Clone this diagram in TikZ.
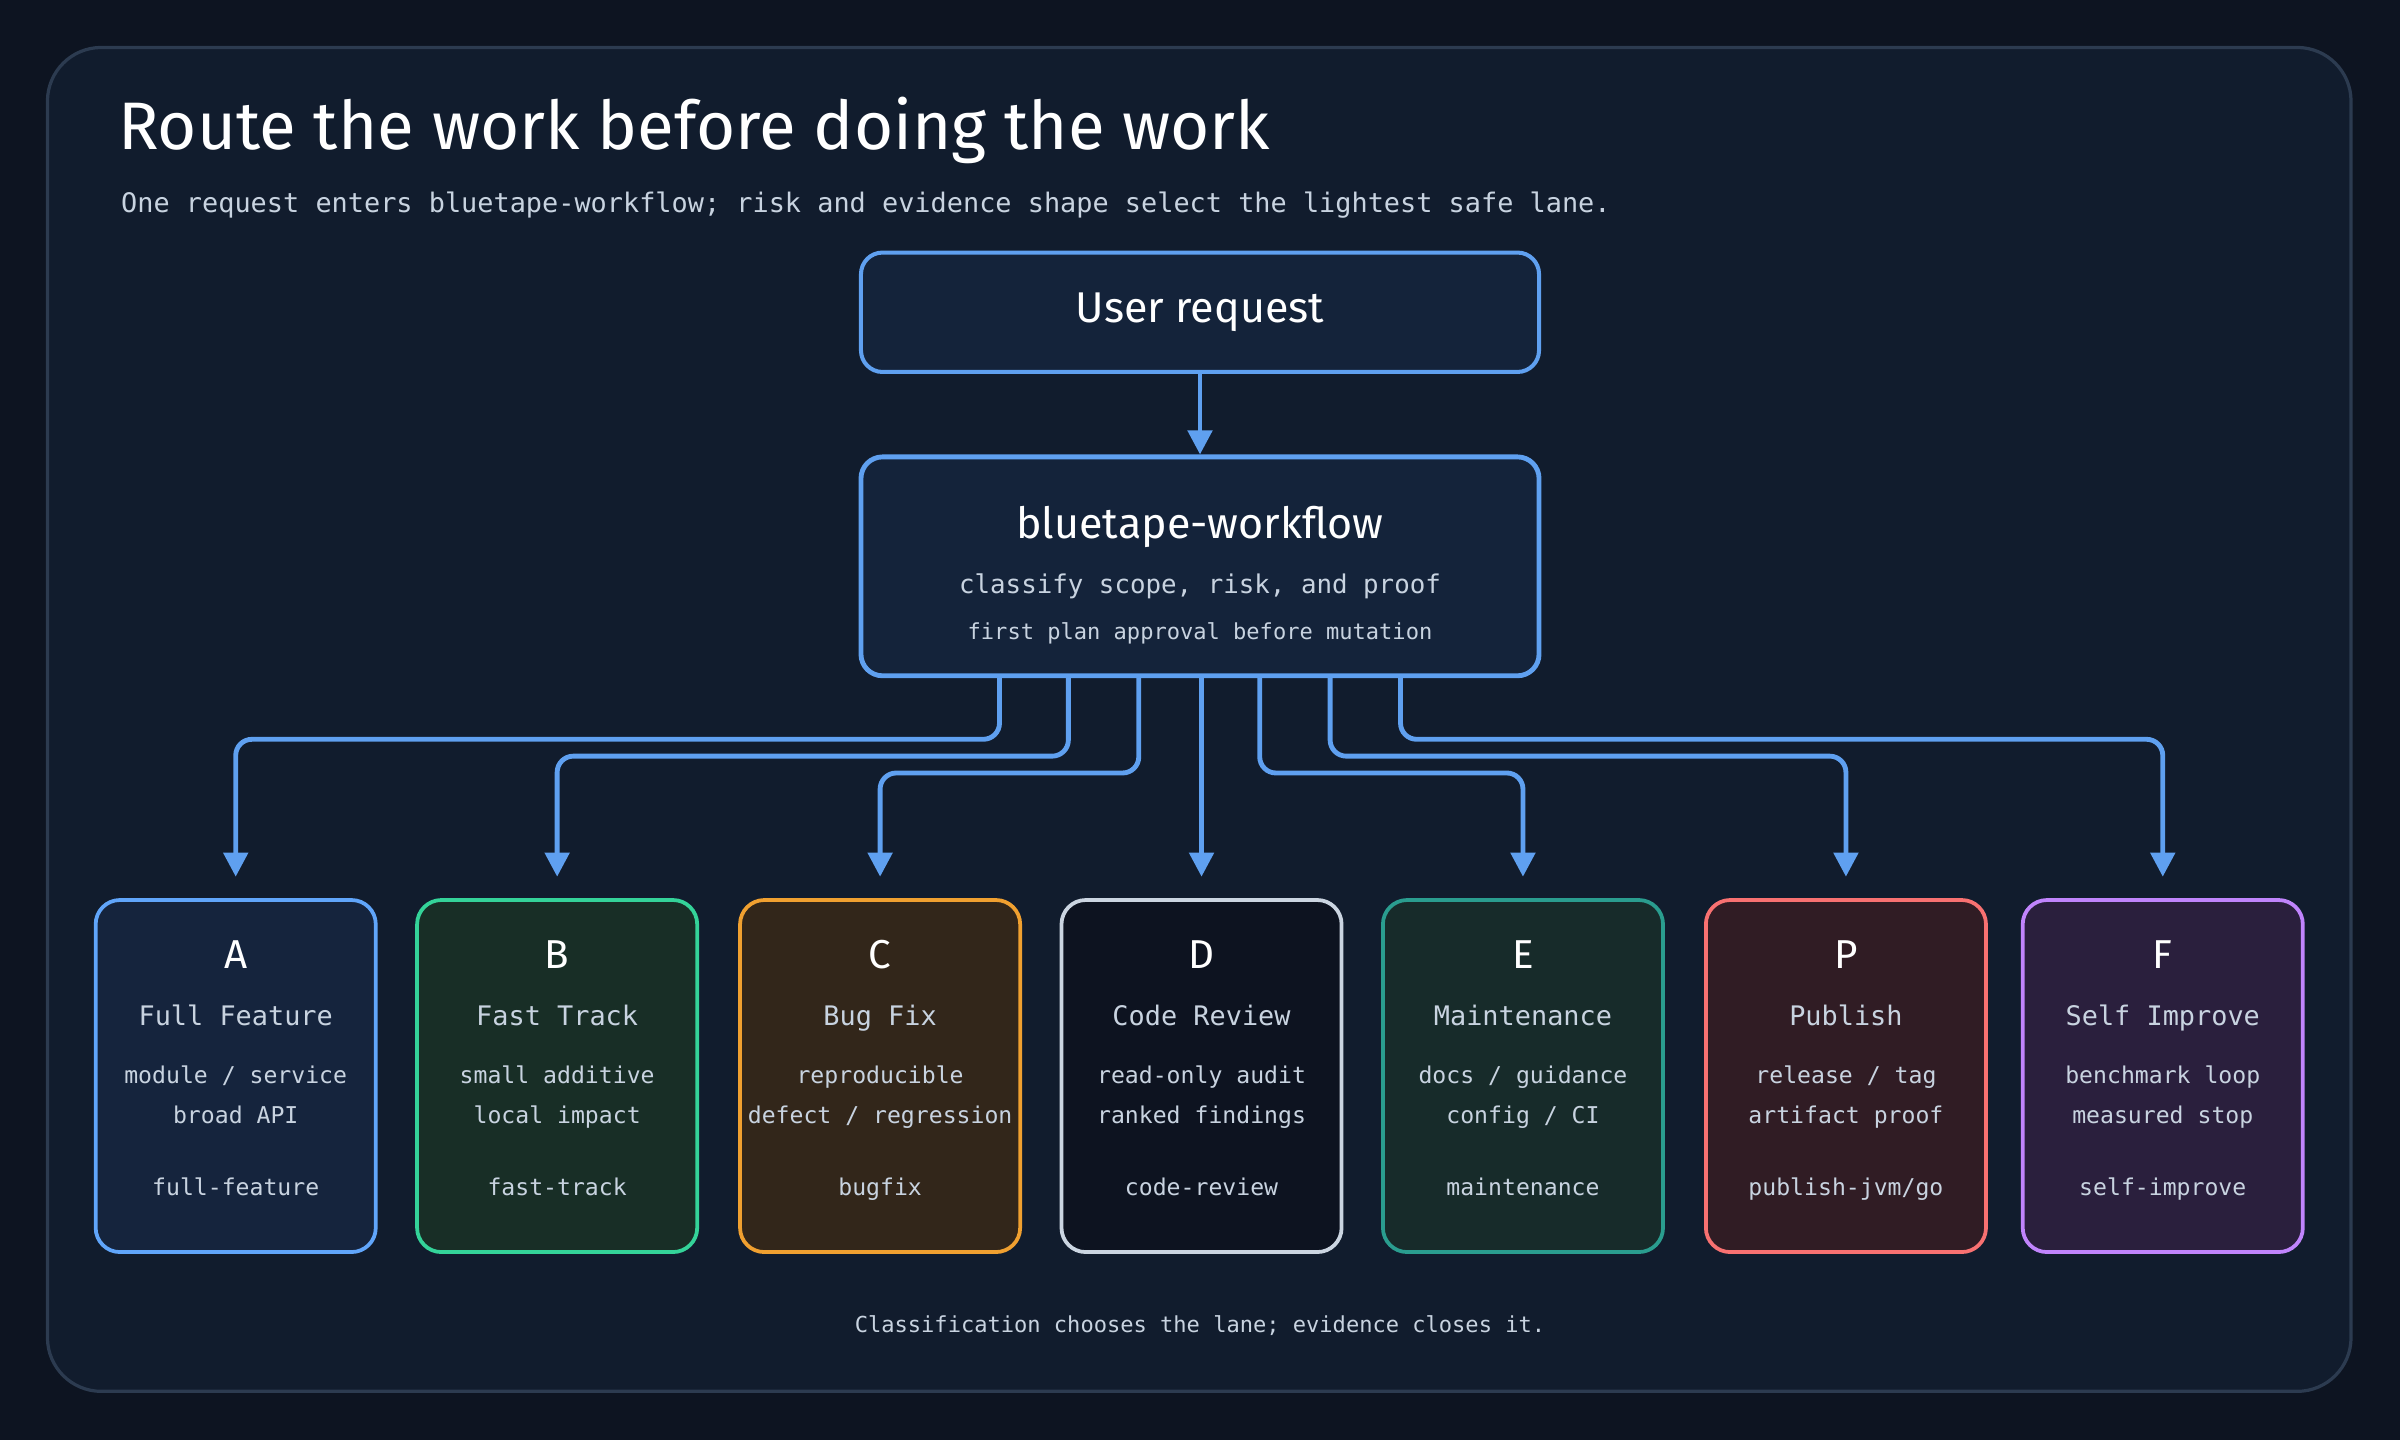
\documentclass[tikz,border=0pt]{standalone}
\usepackage{fontspec}
\setmainfont{DejaVu Sans}
\newfontfamily\monofont{DejaVu Sans Mono}
\newfontfamily\handfont{Fira Sans}
\usetikzlibrary{arrows.meta,positioning}

\definecolor{pagebg}{HTML}{0D1421}
\definecolor{panelbg}{HTML}{111C2D}
\definecolor{panelline}{HTML}{2C3B50}
\definecolor{softtext}{HTML}{C8D3E0}
\definecolor{routeblue}{HTML}{5FA0F0}
\definecolor{boxbg}{HTML}{14233A}

\begin{document}
\begin{tikzpicture}[x=0.02cm, y=-0.02cm,
  hub/.style={draw=routeblue, fill=boxbg, line width=1.5pt, rounded corners=8pt},
  route/.style={draw=routeblue, line width=1.8pt, rounded corners=6pt, -{Triangle[length=9pt,width=9pt]}},
  lane/.style={line width=1.4pt, rounded corners=9pt, minimum width=183*0.02cm, minimum height=230*0.02cm},
  even/.style={text height=1.6ex, text depth=0.4ex},
  small/.style={even, text=softtext, font=\monofont\fontsize{8.6}{11}\selectfont}]

\fill[pagebg] (0,0) rectangle (1568,941);
\draw[panelline, fill=panelbg, line width=1.2pt, rounded corners=20pt] (31,31) rectangle (1536,909);

% heading
\node[anchor=west, text=white, font=\handfont\fontsize{25}{28}\selectfont] (title) at (71,85) {Route the work before doing the work};
\node[anchor=west, text=softtext, font=\monofont\fontsize{10}{12}\selectfont] (sub) at (73,134) {One request enters bluetape-workflow; risk and evidence shape select the lightest safe lane.};

% hub boxes
\node[hub, minimum width=443*0.02cm, minimum height=78*0.02cm, text=white, font=\handfont\fontsize{16}{18}\selectfont] (req) at (784,204) {User request};
\node[hub, line width=1.8pt, minimum width=443*0.02cm, minimum height=143*0.02cm] (wf) at (784,370) {};
\node[text=white, font=\handfont\fontsize{16}{18}\selectfont] (wfname) at (784,344) {bluetape-workflow};
\node[text=softtext, font=\monofont\fontsize{9.6}{12}\selectfont] (wfa) at (784,383) {classify scope, risk, and proof};
\node[small, font=\monofont\fontsize{8.2}{10}\selectfont] (wfb) at (784,412) {first plan approval before mutation};
\draw[route] (req) -- (wf);

% lanes
\foreach \n/\x/\c/\f/\l/\name/\da/\db/\tag in {
  A/154/60A5FA/15243D/A/Full Feature/{module / service}/broad API/full-feature,
  B/364/34D399/182E26/B/Fast Track/small additive/local impact/fast-track,
  C/575/F0A030/32261A/C/Bug Fix/reproducible/{defect / regression}/bugfix,
  D/785/CBD5E1/0D1320/D/Code Review/read-only audit/ranked findings/code-review,
  E/995/2A9D8F/172B2A/E/Maintenance/{docs / guidance}/{config / CI}/maintenance,
  P/1206/F87171/301C24/P/Publish/{release / tag}/artifact proof/{publish-jvm/go},
  F/1413/C084FC/2A1F3D/F/Self Improve/benchmark loop/measured stop/self-improve}{
  \definecolor{edge}{HTML}{\c}\definecolor{tint}{HTML}{\f}
  \node[lane, draw=edge, fill=tint] (l\n) at (\x,703) {};
  \node[even, text=white, font=\handfont\fontsize{15}{17}\selectfont] (k\n) at (\x,627) {\l};
  \node[even, text=softtext, font=\monofont\fontsize{10}{12}\selectfont] (t\n) at (\x,664) {\name};
  \node[small] (d\n) at (\x,702) {\da};
  \node[small] (e\n) at (\x,728) {\db};
  \node[small] (g\n) at (\x,775) {\tag};
}

% connectors
\coordinate (sA) at (653,441); \coordinate (sB) at (698,441);
\coordinate (sC) at (744,441); \coordinate (sE) at (823,441);
\coordinate (sP) at (869,441); \coordinate (sF) at (915,441);
\draw[route, shorten >=14*0.02cm] (sA) |- (400,483) -| (lA.north);
\draw[route, shorten >=14*0.02cm] (sB) |- (500,494) -| (lB.north);
\draw[route, shorten >=14*0.02cm] (sC) |- (650,505) -| (lC.north);
\draw[route, shorten >=14*0.02cm] (wf.south -| lD.north) -- (lD.north);
\draw[route, shorten >=14*0.02cm] (sE) |- (900,505) -| (lE.north);
\draw[route, shorten >=14*0.02cm] (sP) |- (1000,494) -| (lP.north);
\draw[route, shorten >=14*0.02cm] (sF) |- (1100,483) -| (lF.north);

\node[small, font=\monofont\fontsize{8.2}{10}\selectfont] (foot) at (784,865) {Classification chooses the lane; evidence closes it.};
\end{tikzpicture}
\end{document}
